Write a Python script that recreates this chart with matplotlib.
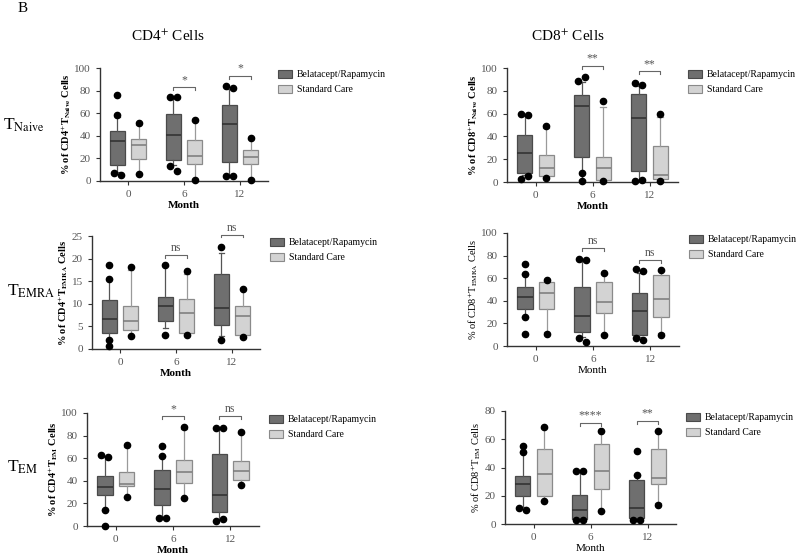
import matplotlib.pyplot as plt
from matplotlib.patches import Patch

plt.rcParams["font.family"] = ["Liberation Serif", "DejaVu Serif"]
plt.rcParams["mathtext.fontset"] = "stix"

# Meses y grupos
meses = ["0", "6", "12"]
grupos = ["Belatacept/Rapamycin", "Standard Care"]

# Cada caja: (bigote inferior, Q1, mediana, Q3, bigote superior)
cd4_naive_bela = [(8, 14.5, 35, 44, 57), (14, 18.5, 40.5, 59.5, 73), (5, 16.5, 50.5, 67, 81)]
cd4_naive_bela_pts = [[76, 58, 7, 5], [74, 74, 13, 8.5], [84, 82, 4, 4.5]]
cd4_naive_std = [(6.5, 19.5, 31.5, 37.5, 50), (1.5, 15, 22, 36, 53), (1.5, 15, 21, 27.5, 37)]
cd4_naive_std_pts = [[51, 6], [54, 1], [38, 1]]
cd4_naive_sig = ["", "*", "*"]
cd4_naive_sig_y = [None, 83, 93]

cd8_naive_bela = [(6, 8, 25.4, 41.6, 58), (1.5, 22, 67, 76.4, 88), (1.5, 9.7, 56, 77, 84)]
cd8_naive_bela_pts = [[60, 59, 3, 5], [89, 92, 8, 1], [87, 85, 1, 2]]
cd8_naive_std = [(4, 5, 12, 24, 47), (1.5, 1.5, 12, 22, 66), (1.5, 3, 6, 31.5, 57)]
cd8_naive_std_pts = [[49, 3.5], [71, 1], [60, 1]]
cd8_naive_sig = ["", "**", "**"]
cd8_naive_sig_y = [None, 102, 97]

cd4_emra_bela = [(2, 3.5, 6.7, 10.9, 15.5), (4.7, 6.3, 9.5, 11.4, 18.3), (2.8, 5.2, 9, 16.5, 21.2)]
cd4_emra_bela_pts = [[18.6, 15.5, 2.1, 0.6], [18.5, 3.1], [22.6, 2.1]]
cd4_emra_std = [(3, 4.3, 6.25, 9.5, 17.5), (3.3, 3.6, 7.9, 11, 16.7), (2.8, 3.2, 7.2, 9.5, 13.2)]
cd4_emra_std_pts = [[18.2, 2.9], [17.2, 3.2], [13.3, 2.7]]
cd4_emra_sig = ["", "ns", "ns"]
cd4_emra_sig_y = [None, 20.8, 25.3]

cd8_emra_bela = [(26, 32.8, 43.5, 52.4, 64), (8, 12, 26.5, 52, 75), (8, 10, 31, 46.5, 65)]
cd8_emra_bela_pts = [[73, 64, 26, 11], [77, 76, 7, 3.5], [68, 66, 7.5, 5]]
cd8_emra_std = [(12.5, 33, 46.5, 57, 57.5), (10.5, 29, 38.5, 57, 64), (11.5, 26, 41.5, 62.5, 66)]
cd8_emra_std_pts = [[58.5, 11], [65, 10], [67, 10]]
cd8_emra_sig = ["", "ns", "ns"]
cd8_emra_sig_y = [None, 86.4, 76]

cd4_em_bela = [(14.5, 27.7, 34.2, 44, 61), (8, 18.3, 33, 49.6, 62), (6, 12, 27, 63.4, 86)]
cd4_em_bela_pts = [[63, 61, 14.5, 0], [71, 62, 7.5, 7.5], [87, 87, 4, 6]]
cd4_em_std = [(26, 35, 37, 47.8, 70), (25, 38, 47.8, 58, 85.5), (37, 40.4, 49, 57.2, 82)]
cd4_em_std_pts = [[72, 26], [88, 24.5], [83, 36.5]]
cd4_em_sig = ["", "*", "ns"]
cd4_em_sig_y = [None, 97, 97]

cd8_em_bela = [(12, 20, 28, 33.7, 51), (3, 3.8, 10, 20.3, 37.5), (3, 4.5, 11.5, 31, 34.5)]
cd8_em_bela_pts = [[55.5, 51, 11.5, 10], [37.5, 37.5, 2.5, 2.5], [51.5, 34.5, 2.5, 3]]
cd8_em_std = [(16, 20, 35.6, 52.8, 68), (9, 24.5, 37.7, 56.6, 66), (15, 28.5, 32.8, 53, 66)]
cd8_em_std_pts = [[68.4, 16], [66, 9], [66, 13.5]]
cd8_em_sig = ["", "****", "**"]
cd8_em_sig_y = [None, 71.7, 73]

c_oscuro = "#6f6f6f"
c_claro = "#d3d3d3"

fig = plt.figure(figsize=(8, 5.55), dpi=100)

# datos, ejes en pixeles (izq, der, arriba, abajo), CD, subíndice, negrita, ymax, paso
paneles = [
    (cd4_naive_bela, cd4_naive_bela_pts, cd4_naive_std, cd4_naive_std_pts, cd4_naive_sig, cd4_naive_sig_y,
     (100, 268, 68, 181), "CD4", r"\mathbf{Naive}", True, 100, 20),
    (cd8_naive_bela, cd8_naive_bela_pts, cd8_naive_std, cd8_naive_std_pts, cd8_naive_sig, cd8_naive_sig_y,
     (507, 678, 68, 182), "CD8", r"\mathbf{Naive}", True, 100, 20),
    (cd4_emra_bela, cd4_emra_bela_pts, cd4_emra_std, cd4_emra_std_pts, cd4_emra_sig, cd4_emra_sig_y,
     (92, 260, 236, 349), "CD4", r"\mathbf{EMRA}", True, 25, 5),
    (cd8_emra_bela, cd8_emra_bela_pts, cd8_emra_std, cd8_emra_std_pts, cd8_emra_sig, cd8_emra_sig_y,
     (507, 679, 233, 346), "CD8", r"\mathrm{EMRA}", False, 100, 20),
    (cd4_em_bela, cd4_em_bela_pts, cd4_em_std, cd4_em_std_pts, cd4_em_sig, cd4_em_sig_y,
     (87, 259, 413, 526), "CD4", r"\mathbf{EM}", True, 100, 20),
    (cd8_em_bela, cd8_em_bela_pts, cd8_em_std, cd8_em_std_pts, cd8_em_sig, cd8_em_sig_y,
     (505, 676, 411, 524), "CD8", r"\mathrm{EM}", False, 80, 20),
]

W, H = 800, 555
desp = 0.19
ancho = 0.27


def a_stats(cajas):
    return [dict(whislo=c[0], q1=c[1], med=c[2], q3=c[3], whishi=c[4], fliers=[]) for c in cajas]


def puntos(ax, cajas, pts, xs, ymax):
    for caja, p, x in zip(cajas, pts, xs):
        arriba = [v for v in p if v >= caja[2]]
        abajo = [v for v in p if v < caja[2]]
        for lado in (arriba, abajo):
            if len(lado) == 2 and abs(lado[0] - lado[1]) < 0.05 * ymax:
                offs = [-0.06, 0.06]
            else:
                offs = [0] * len(lado)
            for v, o in zip(lado, offs):
                ax.plot(x + o, v, "o", color="black", markersize=4.5, clip_on=False, zorder=5)


for bela, bela_pts, std, std_pts, sig, sig_y, px, cd, sub, negrita, ymax, paso in paneles:
    l, r, t, b = px
    ax = fig.add_axes([l / W, 1 - b / H, (r - l) / W, (b - t) / H])
    xs_b = [i - desp for i in range(3)]
    xs_s = [i + desp for i in range(3)]
    ax.bxp(a_stats(bela), positions=xs_b, widths=ancho, patch_artist=True, showfliers=False,
           capwidths=0.1,
           boxprops=dict(facecolor=c_oscuro, edgecolor="#4a4a4a", linewidth=0.9),
           medianprops=dict(color="#2e2e2e", linewidth=1.1),
           whiskerprops=dict(color="#555555", linewidth=0.9),
           capprops=dict(color="#555555", linewidth=0.9))
    ax.bxp(a_stats(std), positions=xs_s, widths=ancho, patch_artist=True, showfliers=False,
           capwidths=0.1,
           boxprops=dict(facecolor=c_claro, edgecolor="#8a8a8a", linewidth=0.9),
           medianprops=dict(color="#7a7a7a", linewidth=1.1),
           whiskerprops=dict(color="#9a9a9a", linewidth=0.9),
           capprops=dict(color="#9a9a9a", linewidth=0.9))
    puntos(ax, bela, bela_pts, xs_b, ymax)
    puntos(ax, std, std_pts, xs_s, ymax)

    # Corchetes de significancia
    for i, (s, y) in enumerate(zip(sig, sig_y)):
        if not s:
            continue
        d = 0.025 * ymax
        ax.plot([xs_b[i], xs_b[i], xs_s[i], xs_s[i]], [y - d, y, y, y - d],
                color="#666666", linewidth=0.8, clip_on=False)
        ax.text(i, y + 0.01 * ymax, s, ha="center", va="bottom", fontsize=8.5,
                color="#555555", clip_on=False)

    ax.set_xlim(-0.5, 2.5)
    ax.set_ylim(0, ymax)
    ax.set_xticks(range(3))
    ax.set_xticklabels(meses)
    ax.set_yticks(range(0, ymax + 1, paso))
    for s in ("top", "right"):
        ax.spines[s].set_visible(False)
    for s in ("left", "bottom"):
        ax.spines[s].set_color("#333333")
        ax.spines[s].set_linewidth(1)
    ax.tick_params(labelsize=8, labelcolor="#555555", color="#333333", length=3, width=0.8)
    peso = "bold" if negrita else "normal"
    ax.set_ylabel(r"% of " + cd + r"$^{+}$T$_{" + sub + r"}$ Cells", fontsize=7.5,
                  fontweight=peso, labelpad=1)
    ax.set_xlabel("Month", fontsize=8, fontweight=peso, labelpad=1.5)

    handles = [Patch(facecolor=c_oscuro, edgecolor="#4a4a4a", linewidth=0.8),
               Patch(facecolor=c_claro, edgecolor="#8a8a8a", linewidth=0.8)]
    ax.legend(handles, grupos, loc="upper left", bbox_to_anchor=((r + 10) / W, 1 - (t + 2) / H),
              bbox_transform=fig.transFigure, frameon=False, fontsize=7, borderpad=0,
              borderaxespad=0, handlelength=1.45, handleheight=0.9, labelspacing=0.55,
              handletextpad=0.5)

# Títulos y etiquetas de fila
fig.text(18 / W, 1 - 9 / H, "B", fontsize=11, ha="left", va="center")
fig.text(168 / W, 1 - 36 / H, r"CD4$^{+}$ Cells", fontsize=11, ha="center", va="center")
fig.text(568 / W, 1 - 36 / H, r"CD8$^{+}$ Cells", fontsize=11, ha="center", va="center")
fig.text(3 / W, 1 - 125 / H, r"T$_{\mathrm{Naive}}$", fontsize=12.5, ha="left", va="center")
fig.text(7 / W, 1 - 291 / H, r"T$_{\mathrm{EMRA}}$", fontsize=12.5, ha="left", va="center")
fig.text(7 / W, 1 - 467 / H, r"T$_{\mathrm{EM}}$", fontsize=12.5, ha="left", va="center")

fig.savefig("out.png", dpi=100)
